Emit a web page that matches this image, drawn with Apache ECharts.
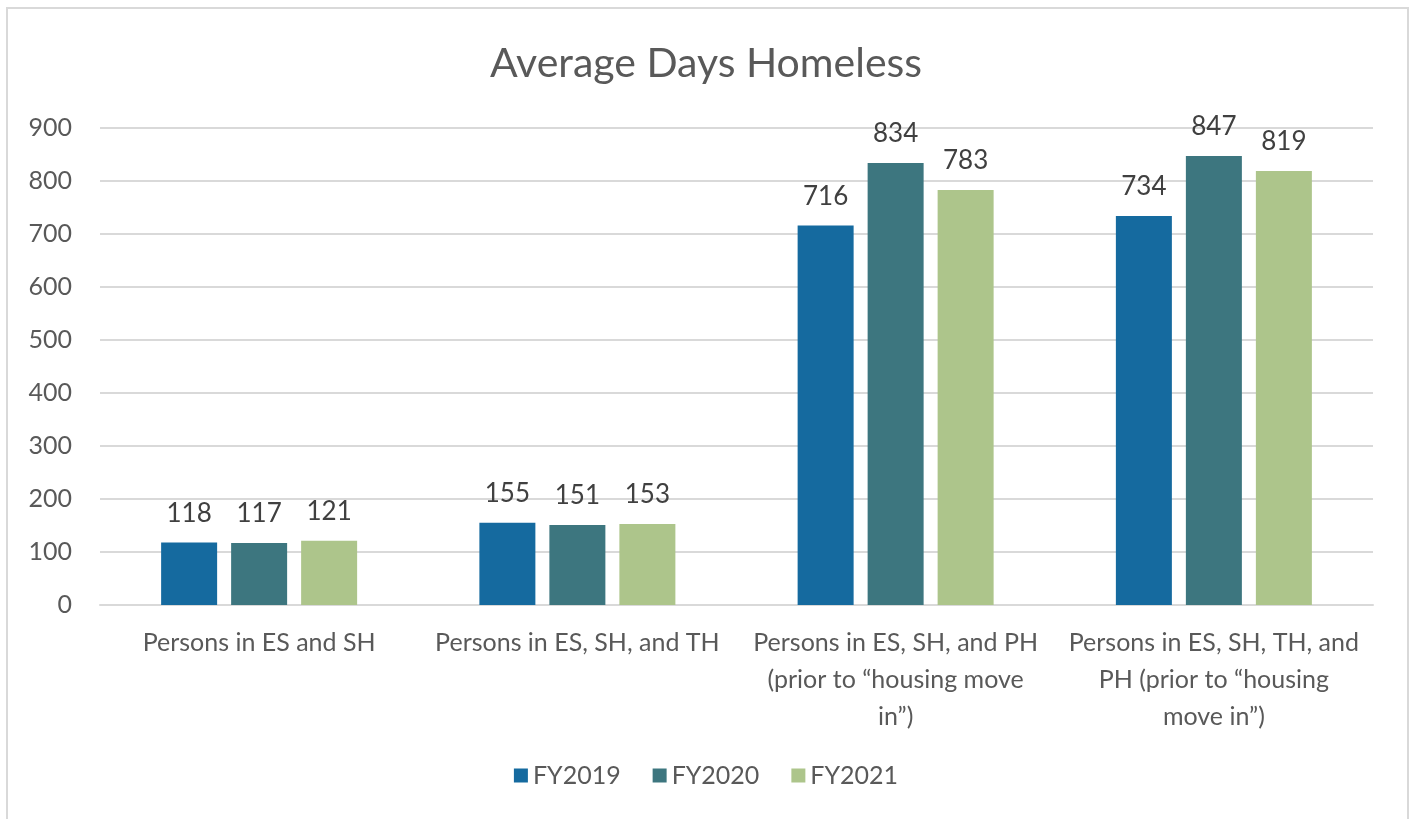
<!DOCTYPE html>
<html>
<head>
<meta charset="utf-8">
<script src="https://cdn.jsdelivr.net/npm/echarts@6/dist/echarts.min.js"></script>
<style>
  html, body { margin: 0; padding: 0; background: #fff; }
  #chart { width: 1412px; height: 819px; }
</style>
</head>
<body>
<div id="chart"></div>
<script>
var categories = [
  'Persons in ES and SH',
  'Persons in ES, SH, and TH',
  'Persons in ES, SH, and PH\n(prior to \u201chousing move\nin\u201d)',
  'Persons in ES, SH, TH, and\nPH (prior to \u201chousing\nmove in\u201d)'
];
var seriesNames = ['FY2019', 'FY2020', 'FY2021'];
var fy2019 = [118, 155, 716, 734];
var fy2020 = [117, 151, 834, 847];
var fy2021 = [121, 153, 783, 819];
var colorlist = ['#156A9F', '#3D767F', '#ADC58B'];

var font = 'Lato, "Open Sans", sans-serif';

function makeSeries(name, data) {
  return {
    name: name,
    type: 'bar',
    data: data,
    barWidth: 56,
    barGap: '25%',
    label: {
      show: true,
      position: 'top',
      distance: 16,
      color: '#404040',
      fontSize: 26,
      fontFamily: font
    }
  };
}

var myChart = echarts.init(document.getElementById('chart'));
var option = {
  color: colorlist,
  animation: false,
  title: {
    text: 'Average Days Homeless',
    left: 'center',
    top: 38,
    textStyle: { color: '#595959', fontSize: 41, fontWeight: 'normal', fontFamily: font }
  },
  graphic: [{
    type: 'rect',
    shape: { x: 7, y: 8, width: 1401, height: 830 },
    style: { fill: 'none', stroke: '#d9d9d9', lineWidth: 2 },
    silent: true
  }],
  legend: {
    data: seriesNames,
    bottom: 26,
    left: 'center',
    icon: 'rect',
    itemWidth: 14,
    itemHeight: 14,
    itemGap: 32,
    textStyle: { color: '#595959', fontSize: 25, fontFamily: font }
  },
  grid: { left: 100, right: 39, top: 128, bottom: 214, containLabel: false },
  xAxis: {
    type: 'category',
    data: categories,
    axisLine: { lineStyle: { color: '#d9d9d9', width: 2 } },
    axisTick: { show: false },
    axisLabel: {
      color: '#595959',
      fontSize: 25,
      fontFamily: font,
      lineHeight: 37,
      margin: 19,
      interval: 0,
      align: 'center'
    }
  },
  yAxis: {
    type: 'value',
    min: 0,
    max: 900,
    interval: 100,
    axisLine: { show: false },
    axisTick: { show: false },
    splitLine: { lineStyle: { color: '#d9d9d9', width: 2 } },
    axisLabel: { color: '#595959', fontSize: 25, fontFamily: font, margin: 28 }
  },
  series: [
    makeSeries(seriesNames[0], fy2019),
    makeSeries(seriesNames[1], fy2020),
    makeSeries(seriesNames[2], fy2021)
  ]
};
myChart.setOption(option);
</script>
</body>
</html>
